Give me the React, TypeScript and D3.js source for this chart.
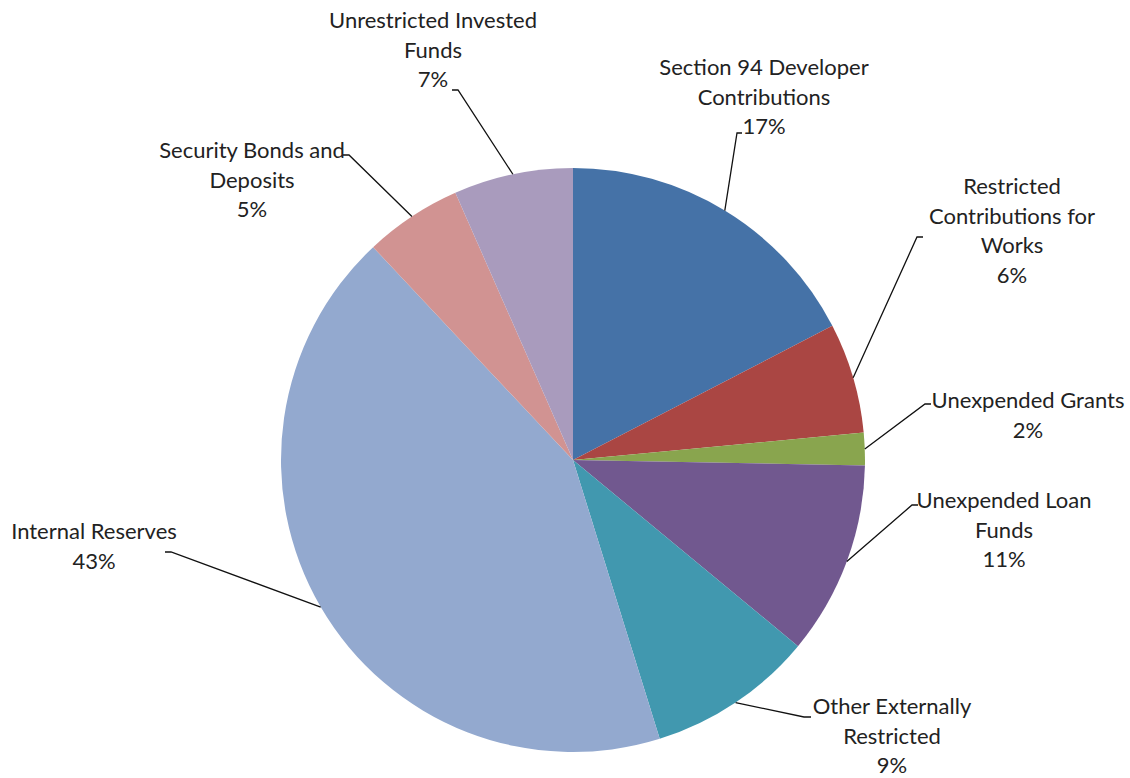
import React from "react";
import * as d3 from "d3";

const categories = [
  "Section 94 Developer Contributions",
  "Restricted Contributions for Works",
  "Unexpended Grants",
  "Unexpended Loan Funds",
  "Other Externally Restricted",
  "Internal Reserves",
  "Security Bonds and Deposits",
  "Unrestricted Invested Funds",
];
const values = [17.4, 6.1, 1.8, 10.7, 9.2, 42.8, 5.4, 6.6];
const percentLabels = ["17%", "6%", "2%", "11%", "9%", "43%", "5%", "7%"];
const labelLines = [
  ["Section 94 Developer", "Contributions"],
  ["Restricted", "Contributions for", "Works"],
  ["Unexpended Grants"],
  ["Unexpended Loan", "Funds"],
  ["Other Externally", "Restricted"],
  ["Internal Reserves"],
  ["Security Bonds and", "Deposits"],
  ["Unrestricted Invested", "Funds"],
];
const colors = ["#4572A7", "#AA4643", "#89A54E", "#71588F", "#4198AF", "#93A9CF", "#D19392", "#A99BBD"];

// label layout: center x, first baseline y, leader corner point and tick direction
const labelLayout = [
  { x: 764, y: 75, lx: 737, ly: 133, tick: 5 },
  { x: 1012, y: 194, lx: 917, ly: 237, tick: 6 },
  { x: 1028, y: 408, lx: 925, ly: 404, tick: 6 },
  { x: 1004, y: 508, lx: 912, ly: 505, tick: 6 },
  { x: 892, y: 714, lx: 804, ly: 717, tick: 7 },
  { x: 94, y: 539, lx: 171, ly: 552, tick: -6 },
  { x: 252, y: 158, lx: 349, ly: 155, tick: -6 },
  { x: 433, y: 28, lx: 458, ly: 90, tick: -6 },
];

const W = 1130, H = 778;
const cx = 573, cy = 460, R = 292;
const lineH = 29.5;

export default function App() {
  const pie = d3.pie<number>().sort(null).value((d) => d);
  const arcs = pie(values);
  const arcGen = d3.arc<d3.PieArcDatum<number>>().innerRadius(0).outerRadius(R);

  return (
    <svg width={W} height={H} style={{ position: "absolute", left: 0, top: 0, background: "#fff" }}
      fontFamily="Lato, 'Open Sans', sans-serif" fontSize={22} fill="#222">
      <g transform={`translate(${cx},${cy})`}>
        {arcs.map((a, i) => (
          <path key={i} d={arcGen(a) || ""} fill={colors[i]} />
        ))}
      </g>
      {arcs.map((a, i) => {
        const mid = (a.startAngle + a.endAngle) / 2;
        const ex = cx + R * Math.sin(mid);
        const ey = cy - R * Math.cos(mid);
        const L = labelLayout[i];
        const pts = `${L.lx + L.tick},${L.ly} ${L.lx},${L.ly} ${ex},${ey}`;
        return (
          <polyline key={"l" + i} points={pts} fill="none" stroke="#111" strokeWidth={1.3} />
        );
      })}
      {labelLines.map((lines, i) => {
        const L = labelLayout[i];
        const all = [...lines, percentLabels[i]];
        return (
          <text key={"t" + i} textAnchor="middle" x={L.x} y={L.y}>
            {all.map((s, j) => (
              <tspan key={j} x={L.x} y={L.y + j * lineH}>{s}</tspan>
            ))}
          </text>
        );
      })}
    </svg>
  );
}
